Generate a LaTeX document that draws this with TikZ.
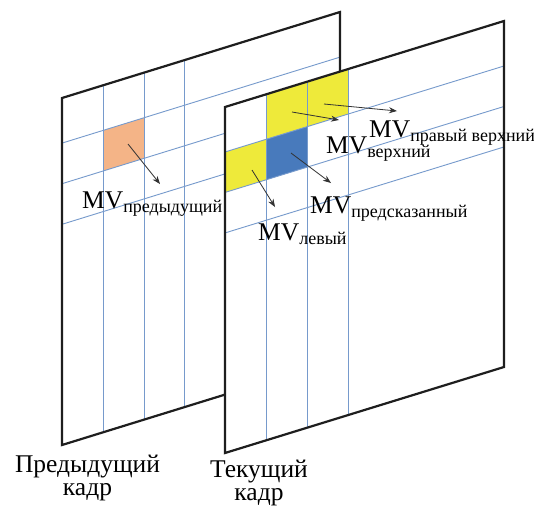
\documentclass[tikz,border=0pt]{standalone}
\usepackage{fontspec}
\setmainfont{Liberation Serif}
\usetikzlibrary{arrows.meta,calc}
\definecolor{gridblue}{RGB}{118,154,204}
\definecolor{framec}{RGB}{30,30,30}
\definecolor{cellorange}{RGB}{244,180,135}
\definecolor{cellyellow}{RGB}{238,234,58}
\definecolor{cellblue}{RGB}{72,122,188}
\definecolor{arrowc}{RGB}{50,50,50}
\newcommand{\mvsub}[1]{MV\raisebox{-4.5pt}{\fontsize{18pt}{18pt}\selectfont #1}}
\tikzset{
  gridline/.style={draw=gridblue, line width=0.9pt},
  framebox/.style={draw=framec, line width=2.2pt, line join=miter},
  mvarrow/.style={draw=arrowc, line width=0.8pt, -{Stealth[length=8pt,width=6pt]}},
  mvlabel/.style={anchor=base west, inner sep=0pt, font=\fontsize{25.5pt}{25pt}\selectfont},
  framelabel/.style={align=center, inner sep=0pt, font=\fontsize{25.5pt}{23pt}\selectfont},
}
\begin{document}
\begin{tikzpicture}[x=1pt,y=-1pt]
\useasboundingbox (0,0) rectangle (534,507);

% previous frame
\begin{scope}[shift={(62pt,-98pt)}, x={(278pt,86pt)}, y={(0pt,-347pt)}]
  \path[fill=white] (0,0) -- (1,0) -- (1,1) -- (0,1) -- cycle;
  \fill[cellorange] (0.148,0.13) -- (0.296,0.13) -- (0.296,0.247) -- (0.148,0.247) -- cycle;
  \foreach \t in {0.148,0.296,0.442} \draw[gridline] (\t,0) -- (\t,1);
  \foreach \s in {0.13,0.247,0.364} \draw[gridline] (0,\s) -- (1,\s);
  \draw[framebox] (0,0) -- (1,0) -- (1,1) -- (0,1) -- cycle;
\end{scope}

% current frame
\begin{scope}[shift={(225pt,-107pt)}, x={(279pt,86pt)}, y={(0pt,-346pt)}]
  \path[fill=white] (0,0) -- (1,0) -- (1,1) -- (0,1) -- cycle;
  \fill[cellyellow] (0.148,0) -- (0.442,0) -- (0.442,0.13) -- (0.148,0.13) -- cycle;
  \fill[cellyellow] (0,0.13) -- (0.148,0.13) -- (0.148,0.247) -- (0,0.247) -- cycle;
  \fill[cellblue] (0.148,0.13) -- (0.296,0.13) -- (0.296,0.247) -- (0.148,0.247) -- cycle;
  \foreach \t in {0.148,0.296,0.442} \draw[gridline] (\t,0) -- (\t,1);
  \foreach \s in {0.13,0.247,0.364} \draw[gridline] (0,\s) -- (1,\s);
  \draw[framebox] (0,0) -- (1,0) -- (1,1) -- (0,1) -- cycle;
\end{scope}

% motion vectors
\coordinate (prevA) at (128,144);  \coordinate (prevB) at (160,184);
\coordinate (upA) at (292,112);    \coordinate (upB) at (339,120);
\coordinate (urA) at (324,104);    \coordinate (urB) at (397,111);
\coordinate (predA) at (291,153);  \coordinate (predB) at (331,183);
\coordinate (leftA) at (252,170);  \coordinate (leftB) at (275,207);
\draw[mvarrow] (prevA) -- (prevB);
\draw[mvarrow] (upA) -- (upB);
\draw[mvarrow] (urA) -- (urB);
\draw[mvarrow] (predA) -- (predB);
\draw[mvarrow] (leftA) -- (leftB);

% labels
\node[mvlabel] (lprev) at (82,208) {\mvsub{предыдущий}};
\node[mvlabel] (lur) at (369,137) {\mvsub{правый верхний}};
\node[mvlabel] (lup) at (326,153) {\mvsub{верхний}};
\node[mvlabel] (lpred) at (310,213) {\mvsub{предсказанный}};
\node[mvlabel] (lleft) at (258,240) {\mvsub{левый}};

\node[framelabel, anchor=base] (tprev) at (87.5,495) {Предыдущий\\кадр};
\node[framelabel, anchor=base] (tcur) at (259,500) {Текущий\\кадр};
\end{tikzpicture}
\end{document}
